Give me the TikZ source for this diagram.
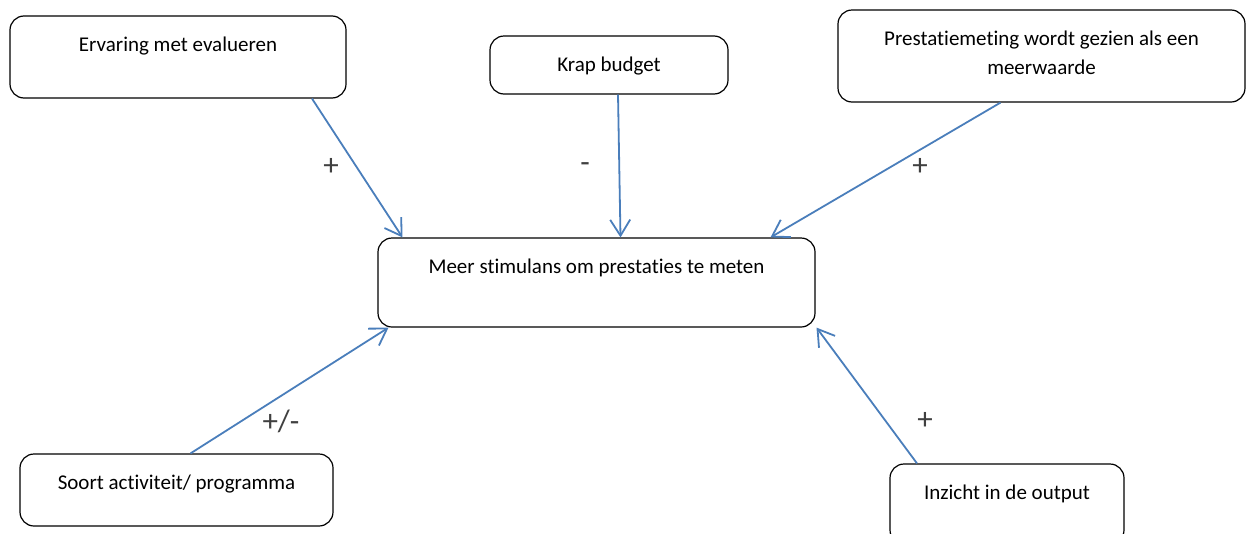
\documentclass[tikz,border=0pt]{standalone}
\usepackage{fontspec}
\setmainfont{Carlito}[Ligatures={NoCommon,NoContextual}, RawFeature={-liga;-clig;-calt}]
\usetikzlibrary{arrows.meta}
\definecolor{linkblue}{HTML}{4A7EBB}
\definecolor{signgray}{HTML}{404040}

\begin{document}
\begin{tikzpicture}[
  x=1pt, y=-1pt,
  factor/.style={draw, line width=1.2pt, rounded corners=14pt, align=center,
    inner xsep=6pt, inner ysep=20pt, text height=15pt,
    font=\fontsize{21}{29}\selectfont},
  link/.style={draw=linkblue, line width=1.8pt, -{Straight Barb[length=16pt, width=20pt]}},
  sign/.style={text=signgray, font=\fontsize{31}{36}\selectfont}
]
  \useasboundingbox (0,0) rectangle (1246,533);

  \node[factor, minimum width=336pt, minimum height=82pt, text depth=27pt] (erv) at (178, 57) {Ervaring met evalueren};
  \node[factor, minimum width=238pt, minimum height=58pt, text depth=3pt] (bud) at (609, 65) {Krap budget};
  \node[factor, minimum width=407pt, minimum height=92pt, text height=44pt, text depth=8pt] (pres) at (1041.5, 56) {Prestatiemeting wordt gezien als een\\meerwaarde};

  \node[factor, minimum width=437pt, minimum height=89pt, text depth=34pt] (stim) at (596.5, 282.5) {Meer stimulans om prestaties te meten};

  \node[factor, minimum width=313pt, minimum height=72pt, text depth=17pt] (soort) at (176.5, 490) {Soort activiteit/ programma};
  \node[factor, minimum width=234pt, minimum height=80pt, text depth=25pt] (inz) at (1007, 504) {Inzicht in de output};

  \draw[link] ([xshift=134pt]erv.south) -- ([xshift=-194pt]stim.north);
  \draw[link] ([xshift=9pt]bud.south) -- ([xshift=24pt]stim.north);
  \draw[link] ([xshift=-41pt]pres.south) -- ([xshift=174pt]stim.north);
  \draw[link] ([xshift=14pt]soort.north) -- ([xshift=-208pt]stim.south);
  \draw[link] ([xshift=-90pt]inz.north) -- ([xshift=220pt]stim.south);

  \node[sign] (s1) at (331, 167) {+};
  \node[sign] (s2) at (585, 168) {-};
  \node[sign] (s3) at (920, 167) {+};
  \node[sign] (s4) at (281, 421) {+/-};
  \node[sign] (s5) at (925, 421) {+};
\end{tikzpicture}
\end{document}
